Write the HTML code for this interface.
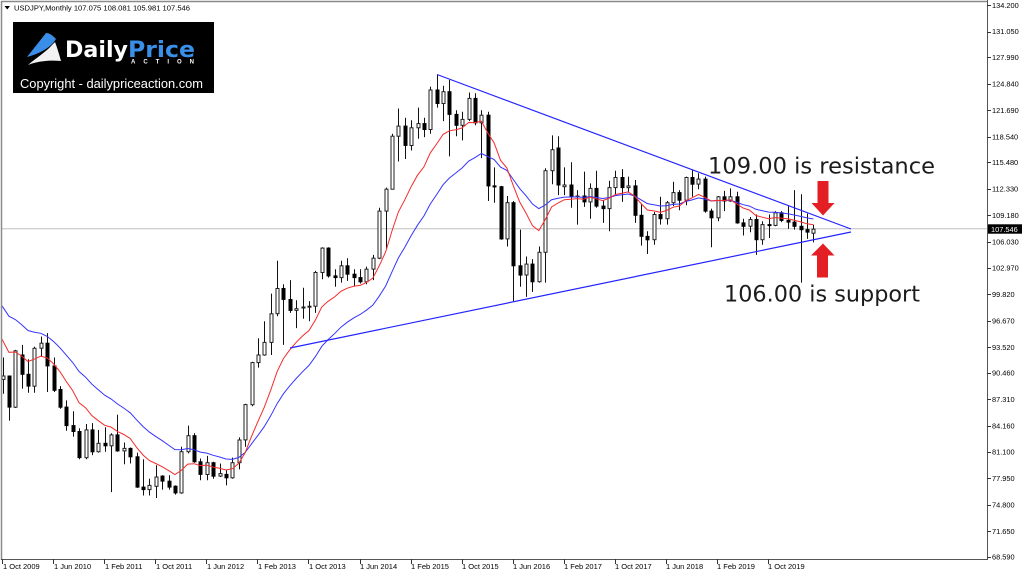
<!DOCTYPE html>
<html><head><meta charset="utf-8"><style>
html,body{margin:0;padding:0;background:#fff;}
body{width:1024px;height:576px;overflow:hidden;position:relative;}
svg{position:absolute;left:0;top:0;}
</style></head><body>
<svg id="s" width="1024" height="576" xmlns="http://www.w3.org/2000/svg">
<defs><clipPath id="c"><rect x="2" y="2" width="985" height="557"/></clipPath></defs>
<rect width="1024" height="576" fill="#fff"/>
<line x1="2" y1="228.8" x2="987" y2="228.8" stroke="#c0c0c0" stroke-width="1"/>
<g id="cand" clip-path="url(#c)"></g>
<g id="ma" clip-path="url(#c)" fill="none"></g>
<!-- trendlines -->
<line x1="437" y1="74.5" x2="851" y2="229" stroke="#2424ff" stroke-width="1.2"/>
<line x1="290" y1="348" x2="851" y2="232" stroke="#2424ff" stroke-width="1.2"/>
<!-- frame -->
<line x1="1" y1="1.5" x2="988" y2="1.5" stroke="#8a8a8a" stroke-width="1.5"/>
<line x1="1.5" y1="1" x2="1.5" y2="560" stroke="#8a8a8a" stroke-width="1.5"/>
<line x1="987.5" y1="0" x2="987.5" y2="560" stroke="#555" stroke-width="1"/>
<line x1="1" y1="559.5" x2="988" y2="559.5" stroke="#555" stroke-width="1"/>
<!-- header -->
<polygon points="4.5,6 10,6 7.25,9.5" fill="#000"/>
<text x="14" y="10.5" font-family="Liberation Sans, sans-serif" font-size="7.6" fill="#000" textLength="176" lengthAdjust="spacingAndGlyphs">USDJPY,Monthly  107.075 108.081 105.981 107.546</text>
<!-- logo -->
<rect x="13" y="22" width="201" height="71" fill="#000"/>
<path d="M27,57 L46,33 C50,33 53,36 56,39 C52,46 42,53 27,57 Z" fill="#3a8ee8"/>
<path d="M28,65 C36,58 46,52 52,45 L55,42 C57,47 59,54 61,61 C50,60 38,61 28,65 Z" fill="#f2f2f2"/>
<text x="65" y="57" font-family="DejaVu Sans, sans-serif" font-weight="bold" font-size="22" textLength="63" lengthAdjust="spacingAndGlyphs" fill="#fff">Daily</text>
<text x="128" y="57" font-family="DejaVu Sans, sans-serif" font-weight="bold" font-size="22" textLength="67" lengthAdjust="spacingAndGlyphs" fill="#3a8fe8">Price</text>
<text x="131" y="63.5" font-family="Liberation Sans, sans-serif" font-weight="bold" font-size="6" textLength="63" lengthAdjust="spacing" fill="#fff">ACTION</text>
<text x="20" y="88" font-family="Liberation Sans, sans-serif" font-size="13" textLength="183" lengthAdjust="spacingAndGlyphs" fill="#fff">Copyright - dailypriceaction.com</text>
<!-- price axis -->
<g id="pax"></g>
<g font-family="Liberation Sans, sans-serif" font-size="7.4" fill="#000">
<text x="992" y="8">134.200</text>
<text x="992" y="34.2">131.050</text>
<text x="992" y="59.9">127.990</text>
<text x="992" y="86.4">124.840</text>
<text x="992" y="112.9">121.690</text>
<text x="992" y="139.4">118.540</text>
<text x="992" y="165.2">115.480</text>
<text x="992" y="191.7">112.330</text>
<text x="992" y="218.1">109.180</text>
<text x="992" y="244.7">106.030</text>
<text x="992" y="270.4">102.970</text>
<text x="992" y="296.9">99.820</text>
<text x="992" y="323.4">96.670</text>
<text x="992" y="349.9">93.520</text>
<text x="992" y="375.7">90.460</text>
<text x="992" y="402.2">87.310</text>
<text x="992" y="428.7">84.160</text>
<text x="992" y="454.4">81.100</text>
<text x="992" y="480.9">77.950</text>
<text x="992" y="507.4">74.800</text>
<text x="992" y="533.9">71.650</text>
<text x="992" y="559.7">68.590</text>
</g>
<rect x="988" y="224.3" width="34" height="9.4" fill="#000"/>
<text x="991" y="231.8" font-family="Liberation Sans, sans-serif" font-size="7.4" fill="#fff">107.546</text>
<!-- date axis -->
<g id="dax"></g>
<g font-family="Liberation Sans, sans-serif" font-size="7.5" fill="#000">
<text x="3" y="569">1 Oct 2009</text>
<text x="54" y="569">1 Jun 2010</text>
<text x="105" y="569">1 Feb 2011</text>
<text x="156" y="569">1 Oct 2011</text>
<text x="207" y="569">1 Jun 2012</text>
<text x="258" y="569">1 Feb 2013</text>
<text x="309" y="569">1 Oct 2013</text>
<text x="360" y="569">1 Jun 2014</text>
<text x="411" y="569">1 Feb 2015</text>
<text x="462" y="569">1 Oct 2015</text>
<text x="513" y="569">1 Jun 2016</text>
<text x="564" y="569">1 Feb 2017</text>
<text x="615" y="569">1 Oct 2017</text>
<text x="666" y="569">1 Jun 2018</text>
<text x="717" y="569">1 Feb 2019</text>
<text x="768" y="569">1 Oct 2019</text>
</g>
<!-- annotations -->
<text x="708" y="173.3" font-family="DejaVu Sans, sans-serif" font-size="22.5" fill="#1c1c1c" textLength="227" lengthAdjust="spacingAndGlyphs">109.00 is resistance</text>
<text x="724" y="301.7" font-family="DejaVu Sans, sans-serif" font-size="22.5" fill="#1c1c1c" textLength="196" lengthAdjust="spacingAndGlyphs">106.00 is support</text>
<rect x="817.5" y="181" width="11" height="22.5" fill="#e31e24"/>
<polygon points="811.5,203 834.5,203 823,215.5" fill="#e31e24"/>
<polygon points="823,243.5 811,255.5 834.5,255.5" fill="#e31e24"/>
<rect x="817" y="255" width="11" height="22.5" fill="#e31e24"/>
</svg>
<script>
(function(){
function Y(p){return 5+(134.2-p)*8.413;}
function X(i){return 2.5+6.385*i;}
var pre=[
117.2,116.0,117.8,113.9,112.6,114.4,114.6,117.3,118.2,116.9,115.8,119.0,
121.0,118.6,117.8,119.5,121.7,123.2,118.7,115.8,114.8,115.4,111.2,111.7,
106.4,103.8,99.7,104.0,105.5,106.2,107.9,108.8,106.0,98.5,95.4,90.6,
89.9,97.6,98.9,98.5,95.3,96.3,94.7,93.0,89.7];
var d=[
[89.7,92.3,88.0,90.1],[90.1,90.1,84.8,86.4],[86.4,93.2,86.3,93.1],[92.6,93.8,88.6,90.3],
[90.3,92.1,88.1,88.9],[88.9,93.6,88.1,93.4],[93.4,94.8,92.4,94.0],[94.0,95.2,88.2,91.3],
[91.3,92.3,88.2,88.4],[88.5,88.9,86.2,86.4],[86.4,87.2,83.6,84.2],[84.2,85.9,82.9,83.5],
[83.5,83.9,80.2,80.4],[80.4,84.4,80.2,83.7],[83.7,84.5,80.7,81.1],[81.1,83.7,81.0,82.1],
[82.1,84.0,81.1,81.8],[81.8,83.3,76.3,83.1],[83.1,85.5,81.1,81.2],[81.2,82.2,79.6,81.5],
[81.5,81.6,79.7,80.5],[80.5,81.0,76.8,76.9],[76.9,80.2,75.9,76.6],[76.6,77.9,75.9,77.1],
[77.0,79.5,75.6,78.1],[78.2,78.3,76.6,77.6],[77.6,78.3,76.6,76.9],[77.0,77.1,76.0,76.2],
[76.2,81.7,76.1,81.1],[81.1,84.2,80.9,83.0],[83.0,83.3,79.8,79.9],[79.9,80.3,77.7,78.4],
[78.4,80.6,77.7,79.8],[79.8,79.9,77.9,78.2],[78.2,79.7,78.1,78.5],[78.4,78.9,77.1,78.0],
[78.0,80.4,77.9,79.8],[79.8,82.8,79.0,82.5],[82.5,86.8,81.7,86.7],[86.7,91.8,86.5,91.7],
[91.7,94.6,91.1,92.6],[92.6,96.6,92.5,94.1],[94.1,99.9,92.6,97.5],[97.5,103.8,97.2,100.5],
[100.5,101.0,93.8,99.2],[99.2,101.5,97.6,97.9],[97.9,99.1,95.8,98.1],[98.2,100.6,96.9,98.3],
[98.3,99.0,96.6,98.4],[98.4,102.6,97.6,102.4],[102.4,105.4,101.6,105.3],[105.3,105.4,101.8,102.0],
[102.0,102.8,100.7,101.8],[101.8,103.8,101.2,103.2],[103.2,104.1,101.4,102.2],[102.2,102.8,100.8,101.8],
[101.8,102.8,101.1,101.3],[101.3,103.1,101.0,102.8],[102.8,104.5,101.5,104.1],[104.1,110.1,104.0,109.7],
[109.7,112.5,105.2,112.3],[112.3,118.9,112.3,118.6],[118.6,121.9,115.6,119.8],[119.8,120.8,115.9,117.5],
[117.5,120.5,116.9,119.6],[119.6,122.0,118.3,120.1],[120.1,120.8,118.5,119.4],[119.4,124.5,118.9,124.1],
[124.1,125.9,122.0,122.5],[122.5,124.6,120.4,123.9],[123.9,125.3,116.2,121.2],[121.2,121.7,118.6,119.9],
[119.9,121.5,118.1,120.6],[120.6,123.8,120.4,123.1],[123.1,123.7,119.9,120.2],[120.2,121.7,116.0,121.1],
[121.1,121.5,110.9,112.7],[112.7,114.9,110.7,112.6],[112.6,112.7,106.3,106.4],[106.4,111.5,105.5,110.7],
[110.7,110.9,99.0,103.2],[103.2,107.5,100.7,102.1],[102.1,104.3,99.5,103.4],[103.4,104.0,100.1,101.3],
[101.3,105.5,101.2,104.8],[104.8,114.8,101.2,114.5],[114.5,118.7,112.9,117.0],[117.2,118.6,111.6,112.8],
[112.6,114.9,111.6,112.8],[112.8,115.5,110.1,111.4],[111.4,112.2,108.1,111.5],[111.5,114.4,110.2,110.8],
[110.8,113.0,108.8,112.4],[112.4,114.5,110.1,110.3],[110.3,111.0,108.3,110.0],[110.0,113.3,107.3,112.5],
[112.5,114.5,111.7,113.7],[113.7,114.7,110.8,112.5],[112.5,113.8,111.9,112.7],[112.7,113.4,108.3,109.2],
[109.2,110.5,105.6,106.7],[106.7,107.3,104.6,106.3],[106.3,109.6,105.7,109.3],[109.3,111.4,108.1,108.8],
[108.8,110.9,108.1,110.7],[110.7,113.2,110.3,111.9],[111.9,112.2,109.8,111.0],[111.0,113.8,110.4,113.7],
[113.7,114.6,111.4,112.9],[112.9,114.2,112.3,113.5],[113.5,113.8,109.5,109.7],[109.7,110.0,105.4,108.9],
[108.9,111.5,108.5,111.4],[111.4,112.1,109.7,110.9],[110.9,112.4,110.8,111.4],[111.4,112.0,108.2,108.3],
[108.3,108.8,106.8,107.9],[107.9,109.0,107.2,108.7],[108.7,109.3,104.5,106.3],[106.3,108.5,105.7,108.1],
[108.1,109.3,106.5,108.0],[108.0,109.7,107.9,109.5],[109.5,109.7,108.4,108.6],[108.6,110.3,107.6,108.4],
[108.4,112.2,107.5,107.9],[107.9,111.7,101.2,107.5],[107.5,109.4,106.4,107.2],[107.075,108.081,105.981,107.546]
];
var g=document.getElementById("cand"),h="";
for(var i=0;i<d.length;i++){
 var o=d[i][0],hi=d[i][1],lo=d[i][2],c=d[i][3];
 var x=Math.round(X(i))+0.5;
 h+='<line x1="'+x+'" y1="'+Y(hi).toFixed(1)+'" x2="'+x+'" y2="'+Y(lo).toFixed(1)+'" stroke="#111" stroke-width="1"/>';
 var yt=Y(Math.max(o,c)),yb=Y(Math.min(o,c));
 var hh=Math.max(yb-yt,1);
 if(c>=o){
  h+='<rect x="'+(x-1.5)+'" y="'+yt.toFixed(1)+'" width="3" height="'+hh.toFixed(1)+'" fill="#fff" stroke="#222" stroke-width="1"/>';
 }else{
  h+='<rect x="'+(x-2)+'" y="'+(yt-0.5).toFixed(1)+'" width="4" height="'+(hh+1).toFixed(1)+'" fill="#000"/>';
 }
}
g.innerHTML=h;
var closes=pre.concat(d.map(function(a){return a[3];}));
var P=pre.length;
function ema(n,col){
 var a=2/(n+1),e=closes[0],pts=[];
 for(var k=0;k<closes.length;k++){
  if(k>0)e=e+a*(closes[k]-e);
  var xi=X(k-P);
  if(xi>-20)pts.push(xi.toFixed(1)+","+Y(e).toFixed(1));
 }
 return '<polyline points="'+pts.join(" ")+'" stroke="'+col+'" stroke-width="1"/>';
}
document.getElementById("ma").innerHTML=ema(20,"#3434ff")+ema(10,"#f52a2a");
var pv=[134.2,131.05,127.99,124.84,121.69,118.54,115.48,112.33,109.18,106.03,102.97,99.82,96.67,93.52,90.46,87.31,84.16,81.1,77.95,74.8,71.65,68.59];
var t="";
pv.forEach(function(p){var y=Math.round(Y(p))+0.5;t+='<line x1="987" y1="'+y+'" x2="991" y2="'+y+'" stroke="#333"/>';});
document.getElementById("pax").innerHTML=t;
var dt="";
for(var k=0;k<=120;k+=8){var x=Math.round(X(k)-0.5)+0.5;dt+='<line x1="'+x+'" y1="559" x2="'+x+'" y2="564" stroke="#333"/>';}
document.getElementById("dax").innerHTML=dt;
})();
</script>
</body></html>
